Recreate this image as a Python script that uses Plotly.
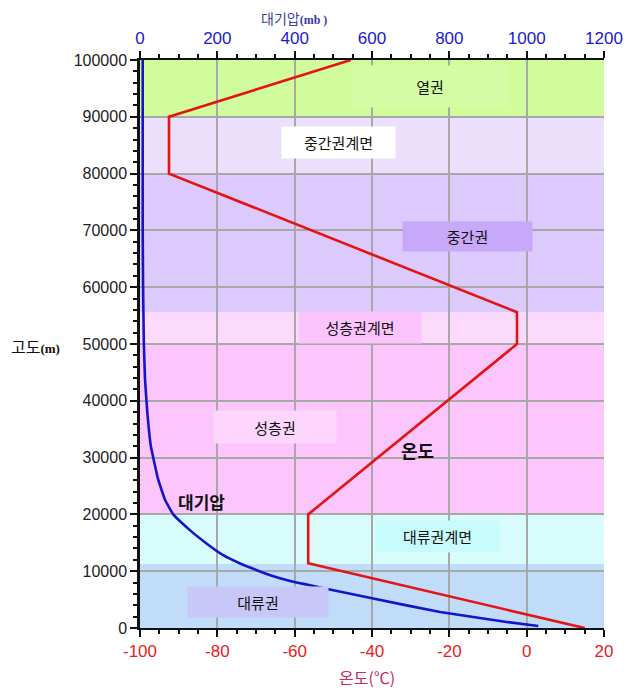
import plotly.graph_objects as go

# ---------------- data ----------------
# temperature profile (altitude m, temperature °C)
temp_alt = [0, 11400, 20000, 50000, 55600, 80000, 90000, 100000]
temp_val = [15, -56.5, -56.5, -2.5, -2.5, -92.5, -92.5, -45.5]

# pressure profile (altitude m, pressure mb)
pres_alt = [350, 1060, 2820, 5180, 6950, 7650, 8290, 9120, 10180, 11360,
            12820, 14880, 17230, 20000, 22520, 26150, 32030, 37900, 43790,
            50000, 60000, 70000, 80000, 90000, 100000]
pres_val = [1030, 948, 776, 603, 478, 431, 388, 345, 302, 259,
            215, 172, 129, 86, 65, 47, 28, 19, 13,
            10, 8, 7, 7, 7, 7]

# atmospheric layers (bottom, top, name)
layer_bottom = [0, 11300, 20000, 50000, 55600, 80000, 90000]
layer_top = [11300, 20000, 50000, 55600, 80000, 90000, 100000]
layer_names = ["대류권", "대류권계면", "성층권", "성층권계면", "중간권", "중간권계면", "열권"]

# label positions (temperature, altitude)
label_temp = [-69.5, -23.1, -65.1, -43.1, -15.4, -48.7, -25.0]
label_alt = [4540, 16030, 35470, 52930, 68850, 85430, 95400]

y_ticks = [0, 10000, 20000, 30000, 40000, 50000, 60000, 70000, 80000, 90000, 100000]
temp_ticks = [-100, -80, -60, -40, -20, 0, 20]
temp_tick_labels = ["-100", "-80", "-60", "-40", "-20", "0", "20"]
pres_ticks = [0, 200, 400, 600, 800, 1000, 1200]

# ---------------- styles ----------------
layer_colors = ["#c0dcf8", "#d8fcfc", "#fcc6fc", "#fcdafc", "#dccafc", "#ecdffc", "#d0fc9c"]
box_colors = ["#c8c8f8", "#c8fcfc", "#fcd6fc", "#fcc4fc", "#c8a8f8", "#ffffff", "#d4fca4"]
box_w = [138, 121, 120, 120, 127, 111, 154]
box_h = [28, 29, 30, 29, 27, 29, 39]

KFONT = "Noto Sans CJK KR"
NFONT = "Liberation Sans"

fig = go.Figure()

fig.add_trace(go.Scatter(x=temp_val, y=temp_alt, mode="lines",
                         line=dict(color="#e41414", width=2.6),
                         xaxis="x", yaxis="y", showlegend=False))
fig.add_trace(go.Scatter(x=pres_val, y=pres_alt, mode="lines",
                         line=dict(color="#1414c8", width=2.6, shape="spline", smoothing=0.3),
                         xaxis="x2", yaxis="y", showlegend=False))

for b, t, c in zip(layer_bottom, layer_top, layer_colors):
    fig.add_shape(type="rect", xref="x domain", yref="y", x0=0, x1=1, y0=b, y1=t,
                  fillcolor=c, line=dict(width=0), layer="below")

annotations = []
for name, tx, al, bc, w, h in zip(layer_names, label_temp, label_alt, box_colors, box_w, box_h):
    annotations.append(dict(x=tx, y=al, xref="x", yref="y", text=name, showarrow=False,
                            bgcolor=bc, width=w, height=h,
                            xanchor="center", yanchor="middle",
                            font=dict(family=KFONT, size=15, color="#111")))

annotations.append(dict(x=-28.2, y=31380, xref="x", yref="y", text="<b>온도</b>",
                        showarrow=False, xanchor="center", yanchor="middle",
                        font=dict(family=KFONT, size=18, color="#111")))
annotations.append(dict(x=-84.2, y=22310, xref="x", yref="y", text="<b>대기압</b>",
                        showarrow=False, xanchor="center", yanchor="middle",
                        font=dict(family=KFONT, size=17, color="#111")))

# axis titles
annotations.append(dict(x=0.332, y=1.0739, xref="paper", yref="paper", showarrow=False,
                        xanchor="center", yanchor="middle", borderpad=0,
                        text="대기압<span style='font-family:Liberation Serif;font-weight:bold;font-size:12px'>(mb )</span>",
                        font=dict(family=KFONT, size=14, color="#3a3aa0")))
annotations.append(dict(x=0.489, y=-0.0857, xref="paper", yref="paper", showarrow=False,
                        xanchor="center", yanchor="middle",
                        text="온도(℃)", font=dict(family=KFONT, size=16, color="#c82860")))
annotations.append(dict(x=-0.226, y=0.497, xref="paper", yref="paper", showarrow=False,
                        xanchor="center", yanchor="middle",
                        text="고도<span style='font-family:Liberation Serif;font-weight:bold;font-size:13px'>(m)</span>",
                        font=dict(family=KFONT, size=16, color="#111")))

fig.update_layout(
    width=631, height=691,
    margin=dict(l=132, r=35, t=52, b=71),
    paper_bgcolor="white", plot_bgcolor="white",
    showlegend=False,
    annotations=annotations,
    xaxis=dict(range=[-100, 20], tickvals=temp_ticks, ticktext=temp_tick_labels, side="bottom",
               showgrid=True, gridcolor="#a8a8a8", gridwidth=1.6,
               showline=True, linecolor="#111", linewidth=2,
               ticks="outside", ticklen=7, tickwidth=1.5, tickcolor="#111",
               tickfont=dict(family=NFONT, size=17, color="#e8201c"),
               minor=dict(ticks="outside", dtick=5, ticklen=4, tickcolor="#111", showgrid=False),
               zeroline=False, fixedrange=True),
    xaxis2=dict(range=[0, 1200], tickvals=pres_ticks, side="top", overlaying="x",
                anchor="y", showgrid=False,
                showline=True, linecolor="#111", linewidth=2,
                ticks="outside", ticklen=7, tickwidth=1.5, tickcolor="#111",
                tickfont=dict(family=NFONT, size=17, color="#1a1acc"),
                minor=dict(ticks="outside", dtick=50, ticklen=4, tickcolor="#111", showgrid=False),
                zeroline=False, fixedrange=True),
    yaxis=dict(range=[0, 100000], tickvals=y_ticks, tickformat="d",
               showgrid=True, gridcolor="#a8a8a8", gridwidth=1.6,
               showline=True, linecolor="#111", linewidth=2.5,
               ticks="outside", ticklen=7, tickwidth=1.5, tickcolor="#111",
               tickfont=dict(family=NFONT, size=16, color="#222"),
               minor=dict(ticks="outside", dtick=2000, ticklen=4, tickcolor="#111", showgrid=False),
               zeroline=False, fixedrange=True),
)

fig.write_html("out.html")
